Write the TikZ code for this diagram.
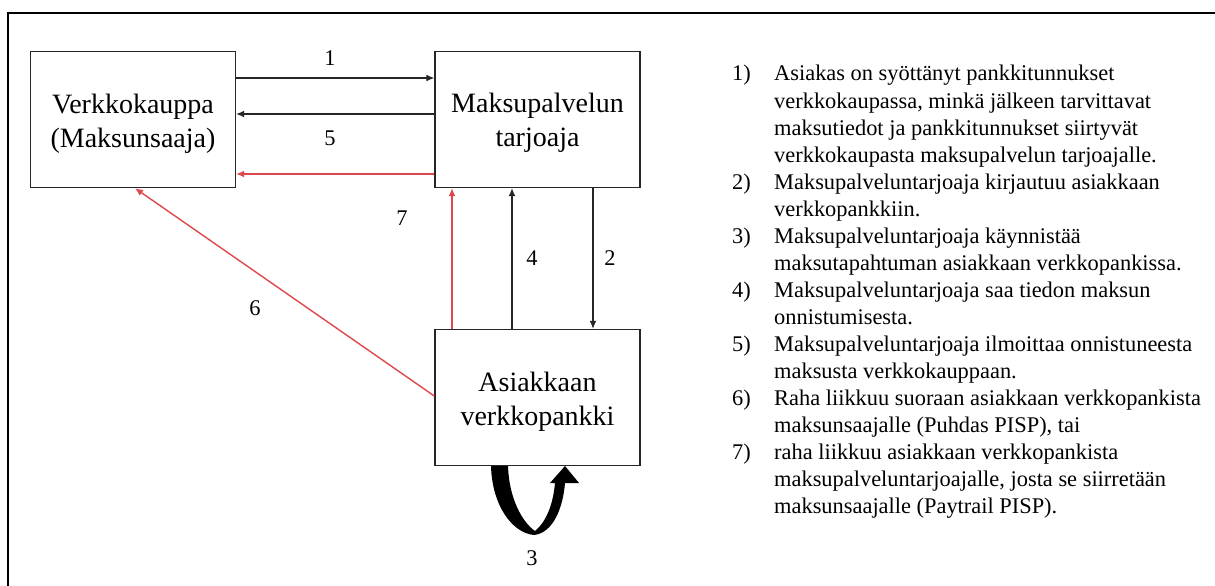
\documentclass[tikz,border=0pt]{standalone}
\usepackage{fontspec}
\setmainfont{Liberation Serif}
\usetikzlibrary{arrows.meta}
\definecolor{flowred}{RGB}{222,72,76}
\begin{document}
\begin{tikzpicture}[x=1pt,y=-1pt,
  partybox/.style={draw=black!85,line width=1.4pt,minimum width=205pt,minimum height=136pt,inner sep=0pt},
  partytext/.style={inner sep=0pt,align=center,font=\rmfamily\fontsize{28}{34.5}\selectfont},
  arr/.style={line width=1.2pt,draw=black!85,-{Latex[length=8pt,width=7pt]}},
  redarr/.style={line width=1.4pt,draw=flowred,-{Latex[length=8pt,width=7pt]}},
  steplabel/.style={font=\rmfamily\fontsize{22.4}{26}\selectfont,inner sep=0pt},
  legendline/.style={font=\rmfamily\fontsize{22.4}{27}\selectfont,inner sep=0pt,anchor=base west}
]
\useasboundingbox (0,0) rectangle (1215,586);
\fill[white] (0,0) rectangle (1215,586);
% outer frame (runs off the page on the right and at the bottom)
\draw[line width=2.4pt] (1225,13) -- (8,13) -- (8,600);

% the three parties
\node[partybox] (shop) at (133,119.5) {};
\node[partybox] (psp)  at (537.5,119.5) {};
\node[partybox] (bank) at (537.5,397.5) {};
\node[partytext] (shop-t) at ([yshift=-4.5pt]shop.center) {Verkkokauppa\\(Maksunsaaja)};
\node[partytext] (psp-t)  at ([yshift=-3.5pt]psp.center) {Maksupalvelun\\tarjoaja};
\node[partytext] (bank-t) at ([yshift=-4.5pt]bank.center) {Asiakkaan\\verkkopankki};

% levels of the connectors
\coordinate (y1) at (0,78);
\coordinate (y5) at (0,114);
\coordinate (y7) at (0,174);
\coordinate (y6) at (0,396);
\coordinate (x7) at (452,0);
\coordinate (x4) at (512,0);
\coordinate (x2) at (593,0);
\coordinate (x6) at (135,0);

% information flows
\draw[arr] (shop.east |- y1) -- (psp.west |- y1);
\draw[arr] (psp.west |- y5) -- (shop.east |- y5);
\draw[arr] (bank.north -| x4) -- (psp.south -| x4);
\draw[arr] (psp.south -| x2) -- (bank.north -| x2);

% money flows
\draw[redarr] (psp.west |- y7) -- (shop.east |- y7);
\draw[redarr] (bank.north -| x7) -- (psp.south -| x7);
\draw[redarr] (bank.west |- y6) -- (shop.south -| x6);

% payment started inside the bank: thick U-turn arrow
\fill[black] (491,466) .. controls (492,505) and (512,533) .. (534,535)
  .. controls (553,533) and (563,508) .. (565,483) -- (579,483) -- (565,466)
  -- (550,483) -- (555,483) .. controls (553,505) and (546,522) .. (535,531)
  .. controls (522,522) and (509,498) .. (508,466) -- cycle;

% step numbers
\node[steplabel] (s1) at (330,58) {1};
\node[steplabel] (s5) at (330,138) {5};
\node[steplabel] (s7) at (402,218) {7};
\node[steplabel] (s6) at (255,308) {6};
\node[steplabel] (s4) at (532,258) {4};
\node[steplabel] (s2) at (610,258) {2};
\node[steplabel] (s3) at (532,558) {3};

% legend
\foreach \n/\k in {1/0,2/4,3/6,4/8,5/10,6/12,7/14}
  \node[legendline] (n\n) at (732,81+27*\k) {\n)};
\node[legendline] (t1)  at (774,81)      {Asiakas on syöttänyt pankkitunnukset};
\node[legendline] (t2)  at (774,81+27)   {verkkokaupassa, minkä jälkeen tarvittavat};
\node[legendline] (t3)  at (774,81+54)   {maksutiedot ja pankkitunnukset siirtyvät};
\node[legendline] (t4)  at (774,81+81)   {verkkokaupasta maksupalvelun tarjoajalle.};
\node[legendline] (t5)  at (774,81+108)  {Maksupalveluntarjoaja kirjautuu asiakkaan};
\node[legendline] (t6)  at (774,81+135)  {verkkopankkiin.};
\node[legendline] (t7)  at (774,81+162)  {Maksupalveluntarjoaja käynnistää};
\node[legendline] (t8)  at (774,81+189)  {maksutapahtuman asiakkaan verkkopankissa.};
\node[legendline] (t9)  at (774,81+216)  {Maksupalveluntarjoaja saa tiedon maksun};
\node[legendline] (t10) at (774,81+243)  {onnistumisesta.};
\node[legendline] (t11) at (774,81+270)  {Maksupalveluntarjoaja ilmoittaa onnistuneesta};
\node[legendline] (t12) at (774,81+297)  {maksusta verkkokauppaan.};
\node[legendline] (t13) at (774,81+324)  {Raha liikkuu suoraan asiakkaan verkkopankista};
\node[legendline] (t14) at (774,81+351)  {maksunsaajalle (Puhdas PISP), tai};
\node[legendline] (t15) at (774,81+378)  {raha liikkuu asiakkaan verkkopankista};
\node[legendline] (t16) at (774,81+405)  {maksupalveluntarjoajalle, josta se siirretään};
\node[legendline] (t17) at (774,81+432)  {maksunsaajalle (Paytrail PISP).};
\end{tikzpicture}
\end{document}
